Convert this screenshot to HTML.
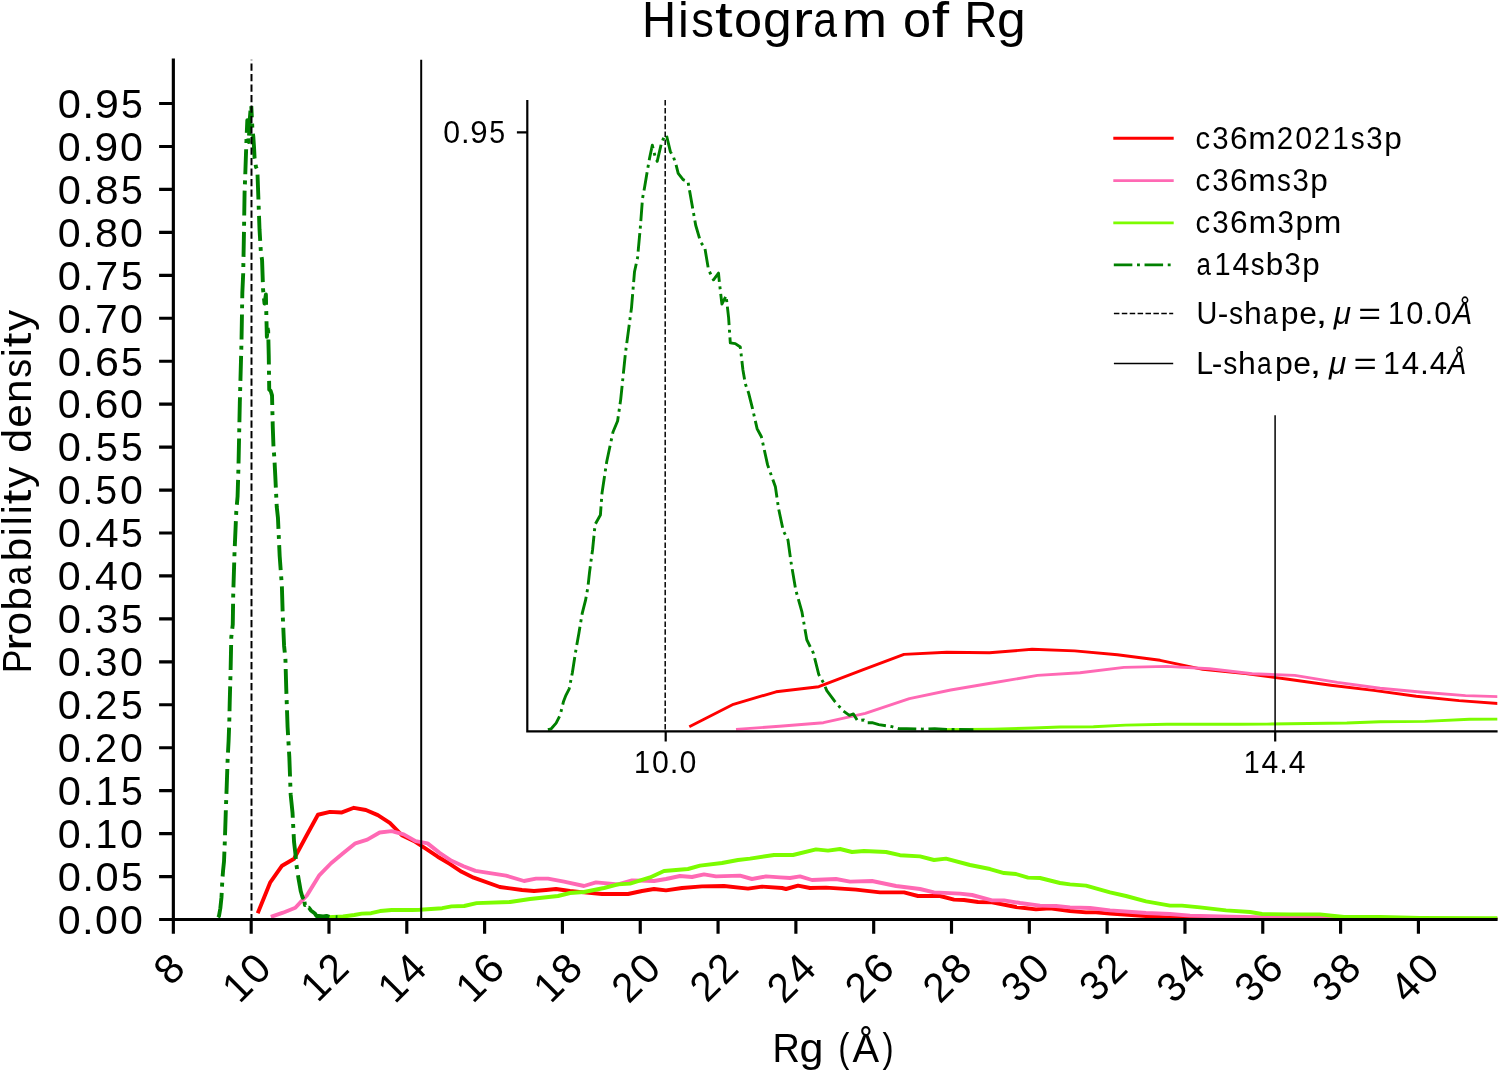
<!DOCTYPE html>
<html><head><meta charset="utf-8"><style>
html,body{margin:0;padding:0;background:#fff;}
svg{display:block;will-change:transform;}
text{font-family:"Liberation Sans", sans-serif;fill:#000;font-kerning:none;}
</style></head><body>
<svg width="1499" height="1072" viewBox="0 0 1499 1072">
<rect x="0" y="0" width="1499" height="1072" fill="#fff"/>
<defs>
<clipPath id="cm"><rect x="173.35" y="55" width="1324" height="864.5"/></clipPath>
<clipPath id="ci"><rect x="527.3" y="95" width="970" height="636.3"/></clipPath>
</defs>
<text x="641.92" y="36.90" font-size="49.70" textLength="34.12" lengthAdjust="spacingAndGlyphs">H</text><text x="678.08" y="36.90" font-size="49.70" textLength="10.79" lengthAdjust="spacingAndGlyphs">i</text><text x="691.35" y="36.90" font-size="49.70" textLength="22.76" lengthAdjust="spacingAndGlyphs">s</text><text x="715.10" y="36.90" font-size="49.70" textLength="17.63" lengthAdjust="spacingAndGlyphs">t</text><text x="733.91" y="36.90" font-size="49.70" textLength="28.08" lengthAdjust="spacingAndGlyphs">o</text><text x="762.92" y="36.90" font-size="49.70" textLength="28.71" lengthAdjust="spacingAndGlyphs">g</text><text x="792.88" y="36.90" font-size="49.70" textLength="20.26" lengthAdjust="spacingAndGlyphs">r</text><text x="813.17" y="36.90" font-size="49.70" textLength="23.75" lengthAdjust="spacingAndGlyphs">a</text><text x="841.96" y="36.90" font-size="49.70" textLength="45.07" lengthAdjust="spacingAndGlyphs">m</text><text x="903.10" y="36.90" font-size="49.70" textLength="28.08" lengthAdjust="spacingAndGlyphs">o</text><text x="931.86" y="36.90" font-size="49.70" textLength="17.33" lengthAdjust="spacingAndGlyphs">f</text><text x="964.40" y="36.90" font-size="49.70" textLength="32.80" lengthAdjust="spacingAndGlyphs">R</text><text x="996.92" y="36.90" font-size="49.70" textLength="28.71" lengthAdjust="spacingAndGlyphs">g</text>
<g clip-path="url(#cm)" fill="none" stroke-linejoin="round" stroke-linecap="butt">
<path d="M257.71,913.23 L270.09,882.72 L282.07,865.69 L294.05,858.74 L306.17,836.27 L317.95,814.74 L329.93,811.88 L341.91,812.43 L353.89,807.80 L365.85,809.97 L377.83,815.15 L389.81,822.78 L401.79,835.18 L413.77,840.90 L425.75,848.66 L437.73,856.70 L449.71,863.78 L461.69,871.82 L473.67,877.68 L499.80,887.00 L510.00,888.40 L522.00,890.00 L534.00,891.00 L546.00,890.00 L556.00,889.00 L570.00,891.00 L584.00,892.40 L602.00,894.00 L628.00,894.00 L642.00,891.00 L654.00,889.00 L666.00,890.40 L682.00,888.00 L702.00,886.40 L724.00,886.00 L748.00,888.60 L762.00,886.60 L782.00,888.00 L786.00,889.00 L798.00,885.60 L810.00,888.00 L826.00,887.60 L856.00,889.60 L880.00,892.40 L904.00,892.40 L918.00,896.00 L940.00,896.00 L954.00,899.60 L964.00,900.00 L978.00,902.00 L992.00,902.40 L1016.00,907.00 L1036.00,909.40 L1050.00,908.40 L1070.00,911.00 L1086.00,912.40 L1096.00,912.40 L1110.00,913.60 L1146.00,916.00 L1170.00,917.60 L1210.00,918.00 L1270.00,918.40 L1350.00,918.80 L1420.00,919.00 L1500.00,919.20" stroke="#ff0000" stroke-width="3.9"/>
<path d="M270.82,916.91 L283.02,912.69 L295.34,907.78 L307.09,895.12 L319.47,875.09 L331.06,863.24 L343.04,853.29 L355.41,843.35 L367.33,839.67 L379.68,832.45 L391.69,831.09 L403.67,834.36 L415.65,841.17 L427.57,843.35 L439.56,852.89 L451.54,860.79 L463.52,866.24 L475.50,870.87 L506.00,875.60 L524.00,881.00 L536.00,878.60 L548.00,878.60 L564.00,881.60 L584.00,886.00 L596.00,882.40 L618.00,884.40 L632.00,880.40 L654.00,881.00 L666.00,879.00 L680.00,876.00 L692.00,877.00 L704.00,874.40 L716.00,876.40 L740.00,875.60 L752.00,879.00 L766.00,876.40 L780.00,877.40 L790.00,878.00 L800.00,876.40 L812.00,880.00 L836.00,879.00 L850.00,881.60 L872.00,881.00 L896.00,886.00 L920.00,889.00 L934.00,892.40 L960.00,893.60 L972.00,895.00 L992.00,900.40 L1004.00,900.40 L1020.00,903.00 L1040.00,905.60 L1056.00,906.00 L1070.00,907.40 L1090.00,908.00 L1110.00,910.40 L1146.00,913.00 L1170.00,914.00 L1190.00,915.60 L1230.00,916.60 L1270.00,917.40 L1370.00,918.40 L1440.00,918.90 L1500.00,919.20" stroke="#ff69b4" stroke-width="3.9"/>
<path d="M328.05,917.32 L343.04,916.50 L354.29,915.00 L361.72,913.64 L371.09,913.23 L380.07,911.05 L391.69,909.96 L412.23,909.96 L419.72,909.69 L442.19,908.19 L451.54,906.42 L464.13,906.01 L476.62,903.15 L510.00,902.00 L530.00,899.00 L558.00,896.00 L570.00,893.00 L584.00,892.00 L604.00,888.00 L618.00,884.40 L630.00,883.60 L650.00,877.40 L664.00,871.00 L688.00,869.00 L700.00,865.60 L722.00,863.00 L738.00,860.00 L750.00,858.60 L774.00,855.00 L793.00,855.00 L816.00,849.40 L828.00,850.60 L840.00,849.00 L852.00,852.00 L864.00,851.00 L886.00,852.00 L900.00,855.20 L920.00,856.40 L934.00,860.00 L946.00,858.60 L970.00,865.00 L990.00,869.00 L1004.00,873.00 L1016.00,874.00 L1028.00,877.60 L1040.00,878.00 L1060.00,883.00 L1070.00,884.40 L1086.00,885.60 L1110.00,892.40 L1126.00,896.00 L1146.00,901.40 L1170.00,905.60 L1182.00,905.60 L1200.00,907.40 L1226.00,910.40 L1250.00,912.00 L1262.00,914.00 L1290.00,914.40 L1320.00,914.40 L1344.00,917.00 L1380.00,917.00 L1420.00,918.00 L1486.00,918.20 L1500.00,918.30" stroke="#7cfc00" stroke-width="3.9"/>
<path d="M218.04,917.31 L218.96,916.08 L220.34,908.28 L221.49,897.21 L222.39,879.29 L223.09,870.40 L224.01,861.51 L224.91,839.22 L225.84,810.22 L226.74,785.60 L227.66,758.80 L228.59,741.01 L229.26,723.10 L229.71,702.99 L230.19,685.21 L230.58,671.54 L231.28,637.34 L232.77,624.49 L233.22,594.67 L234.54,551.86 L236.30,511.24 L237.59,496.33 L238.48,466.38 L239.81,403.06 L241.49,341.92 L242.34,292.68 L243.21,273.26 L243.99,231.14 L244.58,192.84 L245.17,177.52 L245.96,154.54 L246.54,138.27 L247.33,120.08 L247.72,127.74 L248.12,135.40 L248.71,142.10 L249.83,118.71 L250.56,109.41 L251.29,106.13" stroke="#008000" stroke-width="3.9" stroke-dasharray="24.96 6.24 3.90 6.24"/><path d="M251.29,106.13 L252.38,128.56 L253.31,136.76 L253.98,146.34 L254.60,158.37 L255.97,166.99 L257.35,169.86 L258.53,202.41 L259.51,229.22 L260.88,252.20 L262.06,259.86 L263.10,289.81 L264.50,303.62 L265.90,294.46 L266.16,307.04 L266.86,336.86 L268.04,325.37 L268.74,355.19 L269.22,389.65 L270.62,390.75 L272.02,395.40 L272.75,426.31 L273.45,445.87 L274.38,458.45 L275.33,476.91 L276.74,506.73 L277.94,517.67 L279.68,556.10 L281.87,586.05 L282.77,616.01 L284.09,645.96 L285.41,658.68 L286.25,688.63 L287.59,727.06 L289.33,757.02 L290.68,794.63 L291.41,801.88 L292.53,812.82 L294.05,842.09 L295.34,853.03 L296.29,863.97 L298.54,878.61 L300.78,891.33 L302.63,897.75 L303.76,895.84 L304.91,905.00 L306.76,904.04 L307.51,907.74 L309.00,907.74 L310.88,910.47 L314.59,913.21 L316.47,915.94 L318.71,915.94 L323.20,916.49 L326.57,915.94 L329.93,916.90 L337.42,917.31" stroke="#008000" stroke-width="3.9" stroke-dasharray="24.96 6.24 3.90 6.24" stroke-dashoffset="13.66"/>
<path d="M251.5,59.8 L251.5,919.5" stroke="#000" stroke-width="1.98" stroke-dasharray="7.33 3.17" stroke-dashoffset="6.9"/>
<path d="M421.2,59.8 L421.2,919.5" stroke="#000" stroke-width="1.98"/>
</g>
<g stroke="#000" stroke-width="3.15" fill="none">
<path d="M173.35,58.6 L173.35,921.1 M171.8,919.5 L1497.6,919.5" stroke-linecap="butt"/>
<path d="M159.1,919.50 L173.35,919.50 M159.1,876.55 L173.35,876.55 M159.1,833.61 L173.35,833.61 M159.1,790.66 L173.35,790.66 M159.1,747.72 L173.35,747.72 M159.1,704.77 L173.35,704.77 M159.1,661.83 L173.35,661.83 M159.1,618.88 L173.35,618.88 M159.1,575.94 L173.35,575.94 M159.1,533.00 L173.35,533.00 M159.1,490.05 L173.35,490.05 M159.1,447.10 L173.35,447.10 M159.1,404.16 L173.35,404.16 M159.1,361.22 L173.35,361.22 M159.1,318.27 L173.35,318.27 M159.1,275.33 L173.35,275.33 M159.1,232.38 L173.35,232.38 M159.1,189.43 L173.35,189.43 M159.1,146.49 L173.35,146.49 M159.1,103.54 L173.35,103.54 M173.35,919.5 L173.35,933.7 M251.17,919.5 L251.17,933.7 M328.98,919.5 L328.98,933.7 M406.80,919.5 L406.80,933.7 M484.61,919.5 L484.61,933.7 M562.43,919.5 L562.43,933.7 M640.25,919.5 L640.25,933.7 M718.06,919.5 L718.06,933.7 M795.88,919.5 L795.88,933.7 M873.69,919.5 L873.69,933.7 M951.51,919.5 L951.51,933.7 M1029.33,919.5 L1029.33,933.7 M1107.14,919.5 L1107.14,933.7 M1184.96,919.5 L1184.96,933.7 M1262.77,919.5 L1262.77,933.7 M1340.59,919.5 L1340.59,933.7 M1418.41,919.5 L1418.41,933.7"/>
</g>
<text x="57.79" y="933.79" font-size="41.50" textLength="22.90" lengthAdjust="spacingAndGlyphs">0</text><text x="81.99" y="933.79" font-size="41.50" textLength="11.74" lengthAdjust="spacingAndGlyphs">.</text><text x="95.06" y="933.79" font-size="41.50" textLength="22.90" lengthAdjust="spacingAndGlyphs">0</text><text x="119.91" y="933.79" font-size="41.50" textLength="22.90" lengthAdjust="spacingAndGlyphs">0</text>
<text x="57.78" y="890.84" font-size="41.50" textLength="23.13" lengthAdjust="spacingAndGlyphs">0</text><text x="82.22" y="890.84" font-size="41.50" textLength="11.86" lengthAdjust="spacingAndGlyphs">.</text><text x="95.42" y="890.84" font-size="41.50" textLength="23.13" lengthAdjust="spacingAndGlyphs">0</text><text x="121.02" y="890.84" font-size="41.50" textLength="21.83" lengthAdjust="spacingAndGlyphs">5</text>
<text x="57.79" y="847.90" font-size="41.50" textLength="22.90" lengthAdjust="spacingAndGlyphs">0</text><text x="81.99" y="847.90" font-size="41.50" textLength="11.74" lengthAdjust="spacingAndGlyphs">.</text><text x="95.39" y="847.90" font-size="41.50" textLength="21.87" lengthAdjust="spacingAndGlyphs">1</text><text x="119.91" y="847.90" font-size="41.50" textLength="22.90" lengthAdjust="spacingAndGlyphs">0</text>
<text x="57.78" y="804.95" font-size="41.50" textLength="23.13" lengthAdjust="spacingAndGlyphs">0</text><text x="82.22" y="804.95" font-size="41.50" textLength="11.86" lengthAdjust="spacingAndGlyphs">.</text><text x="95.75" y="804.95" font-size="41.50" textLength="22.09" lengthAdjust="spacingAndGlyphs">1</text><text x="121.02" y="804.95" font-size="41.50" textLength="21.83" lengthAdjust="spacingAndGlyphs">5</text>
<text x="57.79" y="762.01" font-size="41.50" textLength="22.90" lengthAdjust="spacingAndGlyphs">0</text><text x="81.99" y="762.01" font-size="41.50" textLength="11.74" lengthAdjust="spacingAndGlyphs">.</text><text x="94.96" y="762.01" font-size="41.50" textLength="22.07" lengthAdjust="spacingAndGlyphs">2</text><text x="119.91" y="762.01" font-size="41.50" textLength="22.90" lengthAdjust="spacingAndGlyphs">0</text>
<text x="57.78" y="719.06" font-size="41.50" textLength="23.13" lengthAdjust="spacingAndGlyphs">0</text><text x="82.22" y="719.06" font-size="41.50" textLength="11.86" lengthAdjust="spacingAndGlyphs">.</text><text x="95.32" y="719.06" font-size="41.50" textLength="22.30" lengthAdjust="spacingAndGlyphs">2</text><text x="121.02" y="719.06" font-size="41.50" textLength="21.83" lengthAdjust="spacingAndGlyphs">5</text>
<text x="57.79" y="676.12" font-size="41.50" textLength="22.90" lengthAdjust="spacingAndGlyphs">0</text><text x="81.99" y="676.12" font-size="41.50" textLength="11.74" lengthAdjust="spacingAndGlyphs">.</text><text x="95.56" y="676.12" font-size="41.50" textLength="21.99" lengthAdjust="spacingAndGlyphs">3</text><text x="119.91" y="676.12" font-size="41.50" textLength="22.90" lengthAdjust="spacingAndGlyphs">0</text>
<text x="57.78" y="633.17" font-size="41.50" textLength="23.13" lengthAdjust="spacingAndGlyphs">0</text><text x="82.22" y="633.17" font-size="41.50" textLength="11.86" lengthAdjust="spacingAndGlyphs">.</text><text x="95.93" y="633.17" font-size="41.50" textLength="22.21" lengthAdjust="spacingAndGlyphs">3</text><text x="121.02" y="633.17" font-size="41.50" textLength="21.83" lengthAdjust="spacingAndGlyphs">5</text>
<text x="57.79" y="590.23" font-size="41.50" textLength="22.90" lengthAdjust="spacingAndGlyphs">0</text><text x="81.99" y="590.23" font-size="41.50" textLength="11.74" lengthAdjust="spacingAndGlyphs">.</text><text x="95.05" y="590.23" font-size="41.50" textLength="22.90" lengthAdjust="spacingAndGlyphs">4</text><text x="119.91" y="590.23" font-size="41.50" textLength="22.90" lengthAdjust="spacingAndGlyphs">0</text>
<text x="57.78" y="547.28" font-size="41.50" textLength="23.13" lengthAdjust="spacingAndGlyphs">0</text><text x="82.22" y="547.28" font-size="41.50" textLength="11.86" lengthAdjust="spacingAndGlyphs">.</text><text x="95.42" y="547.28" font-size="41.50" textLength="23.13" lengthAdjust="spacingAndGlyphs">4</text><text x="121.02" y="547.28" font-size="41.50" textLength="21.83" lengthAdjust="spacingAndGlyphs">5</text>
<text x="57.79" y="504.34" font-size="41.50" textLength="22.90" lengthAdjust="spacingAndGlyphs">0</text><text x="81.99" y="504.34" font-size="41.50" textLength="11.74" lengthAdjust="spacingAndGlyphs">.</text><text x="95.55" y="504.34" font-size="41.50" textLength="21.61" lengthAdjust="spacingAndGlyphs">5</text><text x="119.91" y="504.34" font-size="41.50" textLength="22.90" lengthAdjust="spacingAndGlyphs">0</text>
<text x="57.78" y="461.39" font-size="41.50" textLength="23.13" lengthAdjust="spacingAndGlyphs">0</text><text x="82.22" y="461.39" font-size="41.50" textLength="11.86" lengthAdjust="spacingAndGlyphs">.</text><text x="95.92" y="461.39" font-size="41.50" textLength="21.83" lengthAdjust="spacingAndGlyphs">5</text><text x="121.02" y="461.39" font-size="41.50" textLength="21.83" lengthAdjust="spacingAndGlyphs">5</text>
<text x="57.79" y="418.45" font-size="41.50" textLength="22.90" lengthAdjust="spacingAndGlyphs">0</text><text x="81.99" y="418.45" font-size="41.50" textLength="11.74" lengthAdjust="spacingAndGlyphs">.</text><text x="94.66" y="418.45" font-size="41.50" textLength="23.70" lengthAdjust="spacingAndGlyphs">6</text><text x="119.91" y="418.45" font-size="41.50" textLength="22.90" lengthAdjust="spacingAndGlyphs">0</text>
<text x="57.78" y="375.50" font-size="41.50" textLength="23.13" lengthAdjust="spacingAndGlyphs">0</text><text x="82.22" y="375.50" font-size="41.50" textLength="11.86" lengthAdjust="spacingAndGlyphs">.</text><text x="95.01" y="375.50" font-size="41.50" textLength="23.94" lengthAdjust="spacingAndGlyphs">6</text><text x="121.02" y="375.50" font-size="41.50" textLength="21.83" lengthAdjust="spacingAndGlyphs">5</text>
<text x="57.79" y="332.56" font-size="41.50" textLength="22.90" lengthAdjust="spacingAndGlyphs">0</text><text x="81.99" y="332.56" font-size="41.50" textLength="11.74" lengthAdjust="spacingAndGlyphs">.</text><text x="95.23" y="332.56" font-size="41.50" textLength="22.40" lengthAdjust="spacingAndGlyphs">7</text><text x="119.91" y="332.56" font-size="41.50" textLength="22.90" lengthAdjust="spacingAndGlyphs">0</text>
<text x="57.78" y="289.61" font-size="41.50" textLength="23.13" lengthAdjust="spacingAndGlyphs">0</text><text x="82.22" y="289.61" font-size="41.50" textLength="11.86" lengthAdjust="spacingAndGlyphs">.</text><text x="95.59" y="289.61" font-size="41.50" textLength="22.63" lengthAdjust="spacingAndGlyphs">7</text><text x="121.02" y="289.61" font-size="41.50" textLength="21.83" lengthAdjust="spacingAndGlyphs">5</text>
<text x="57.79" y="246.67" font-size="41.50" textLength="22.90" lengthAdjust="spacingAndGlyphs">0</text><text x="81.99" y="246.67" font-size="41.50" textLength="11.74" lengthAdjust="spacingAndGlyphs">.</text><text x="94.93" y="246.67" font-size="41.50" textLength="23.15" lengthAdjust="spacingAndGlyphs">8</text><text x="119.91" y="246.67" font-size="41.50" textLength="22.90" lengthAdjust="spacingAndGlyphs">0</text>
<text x="57.78" y="203.72" font-size="41.50" textLength="23.13" lengthAdjust="spacingAndGlyphs">0</text><text x="82.22" y="203.72" font-size="41.50" textLength="11.86" lengthAdjust="spacingAndGlyphs">.</text><text x="95.29" y="203.72" font-size="41.50" textLength="23.38" lengthAdjust="spacingAndGlyphs">8</text><text x="121.02" y="203.72" font-size="41.50" textLength="21.83" lengthAdjust="spacingAndGlyphs">5</text>
<text x="57.79" y="160.78" font-size="41.50" textLength="22.90" lengthAdjust="spacingAndGlyphs">0</text><text x="81.99" y="160.78" font-size="41.50" textLength="11.74" lengthAdjust="spacingAndGlyphs">.</text><text x="94.56" y="160.78" font-size="41.50" textLength="23.65" lengthAdjust="spacingAndGlyphs">9</text><text x="119.91" y="160.78" font-size="41.50" textLength="22.90" lengthAdjust="spacingAndGlyphs">0</text>
<text x="57.78" y="117.83" font-size="41.50" textLength="23.13" lengthAdjust="spacingAndGlyphs">0</text><text x="82.22" y="117.83" font-size="41.50" textLength="11.86" lengthAdjust="spacingAndGlyphs">.</text><text x="94.91" y="117.83" font-size="41.50" textLength="23.89" lengthAdjust="spacingAndGlyphs">9</text><text x="121.02" y="117.83" font-size="41.50" textLength="21.83" lengthAdjust="spacingAndGlyphs">5</text>
<g transform="translate(172.07,985.75) rotate(-45)"><text x="-1.82" y="0.00" font-size="41.50" textLength="23.35" lengthAdjust="spacingAndGlyphs">8</text></g>
<g transform="translate(241.58,1002.36) rotate(-45)"><text x="-3.02" y="0.00" font-size="41.50" textLength="22.06" lengthAdjust="spacingAndGlyphs">1</text><text x="21.71" y="0.00" font-size="41.50" textLength="23.10" lengthAdjust="spacingAndGlyphs">0</text></g>
<g transform="translate(319.87,1001.42) rotate(-45)"><text x="-3.02" y="0.00" font-size="41.50" textLength="22.06" lengthAdjust="spacingAndGlyphs">1</text><text x="21.61" y="0.00" font-size="41.50" textLength="22.26" lengthAdjust="spacingAndGlyphs">2</text></g>
<g transform="translate(397.07,1002.64) rotate(-45)"><text x="-3.02" y="0.00" font-size="41.50" textLength="22.06" lengthAdjust="spacingAndGlyphs">1</text><text x="21.71" y="0.00" font-size="41.50" textLength="23.10" lengthAdjust="spacingAndGlyphs">4</text></g>
<g transform="translate(475.02,1002.38) rotate(-45)"><text x="-3.01" y="0.00" font-size="41.50" textLength="22.01" lengthAdjust="spacingAndGlyphs">1</text><text x="21.26" y="0.00" font-size="41.50" textLength="23.85" lengthAdjust="spacingAndGlyphs">6</text></g>
<g transform="translate(552.87,1002.30) rotate(-45)"><text x="-3.02" y="0.00" font-size="41.50" textLength="22.06" lengthAdjust="spacingAndGlyphs">1</text><text x="21.59" y="0.00" font-size="41.50" textLength="23.35" lengthAdjust="spacingAndGlyphs">8</text></g>
<g transform="translate(630.15,1003.38) rotate(-45)"><text x="-2.01" y="0.00" font-size="41.50" textLength="22.26" lengthAdjust="spacingAndGlyphs">2</text><text x="23.16" y="0.00" font-size="41.50" textLength="23.10" lengthAdjust="spacingAndGlyphs">0</text></g>
<g transform="translate(708.44,1002.44) rotate(-45)"><text x="-2.01" y="0.00" font-size="41.50" textLength="22.26" lengthAdjust="spacingAndGlyphs">2</text><text x="23.05" y="0.00" font-size="41.50" textLength="22.26" lengthAdjust="spacingAndGlyphs">2</text></g>
<g transform="translate(785.64,1003.66) rotate(-45)"><text x="-2.01" y="0.00" font-size="41.50" textLength="22.27" lengthAdjust="spacingAndGlyphs">2</text><text x="23.15" y="0.00" font-size="41.50" textLength="23.10" lengthAdjust="spacingAndGlyphs">4</text></g>
<g transform="translate(863.59,1003.41) rotate(-45)"><text x="-2.01" y="0.00" font-size="41.50" textLength="22.22" lengthAdjust="spacingAndGlyphs">2</text><text x="22.70" y="0.00" font-size="41.50" textLength="23.86" lengthAdjust="spacingAndGlyphs">6</text></g>
<g transform="translate(941.44,1003.32) rotate(-45)"><text x="-2.01" y="0.00" font-size="41.50" textLength="22.27" lengthAdjust="spacingAndGlyphs">2</text><text x="23.03" y="0.00" font-size="41.50" textLength="23.35" lengthAdjust="spacingAndGlyphs">8</text></g>
<g transform="translate(1019.27,1003.29) rotate(-45)"><text x="-1.52" y="0.00" font-size="41.50" textLength="22.18" lengthAdjust="spacingAndGlyphs">3</text><text x="23.04" y="0.00" font-size="41.50" textLength="23.10" lengthAdjust="spacingAndGlyphs">0</text></g>
<g transform="translate(1097.56,1002.36) rotate(-45)"><text x="-1.52" y="0.00" font-size="41.50" textLength="22.18" lengthAdjust="spacingAndGlyphs">3</text><text x="22.94" y="0.00" font-size="41.50" textLength="22.26" lengthAdjust="spacingAndGlyphs">2</text></g>
<g transform="translate(1174.76,1003.58) rotate(-45)"><text x="-1.52" y="0.00" font-size="41.50" textLength="22.18" lengthAdjust="spacingAndGlyphs">3</text><text x="23.04" y="0.00" font-size="41.50" textLength="23.10" lengthAdjust="spacingAndGlyphs">4</text></g>
<g transform="translate(1252.71,1003.32) rotate(-45)"><text x="-1.52" y="0.00" font-size="41.50" textLength="22.13" lengthAdjust="spacingAndGlyphs">3</text><text x="22.58" y="0.00" font-size="41.50" textLength="23.85" lengthAdjust="spacingAndGlyphs">6</text></g>
<g transform="translate(1330.57,1003.24) rotate(-45)"><text x="-1.52" y="0.00" font-size="41.50" textLength="22.18" lengthAdjust="spacingAndGlyphs">3</text><text x="22.92" y="0.00" font-size="41.50" textLength="23.35" lengthAdjust="spacingAndGlyphs">8</text></g>
<g transform="translate(1407.97,1004.06) rotate(-45)"><text x="-0.95" y="0.00" font-size="41.50" textLength="23.10" lengthAdjust="spacingAndGlyphs">4</text><text x="24.12" y="0.00" font-size="41.50" textLength="23.10" lengthAdjust="spacingAndGlyphs">0</text></g>
<g transform="translate(31.3,670.1) rotate(-90)"><text x="-2.86" y="0.00" font-size="41.00" textLength="23.25" lengthAdjust="spacingAndGlyphs">P</text><text x="19.43" y="0.00" font-size="41.00" textLength="16.81" lengthAdjust="spacingAndGlyphs">r</text><text x="34.96" y="0.00" font-size="41.00" textLength="23.30" lengthAdjust="spacingAndGlyphs">o</text><text x="59.47" y="0.00" font-size="41.00" textLength="23.85" lengthAdjust="spacingAndGlyphs">b</text><text x="84.53" y="0.00" font-size="41.00" textLength="19.71" lengthAdjust="spacingAndGlyphs">a</text><text x="108.63" y="0.00" font-size="41.00" textLength="23.85" lengthAdjust="spacingAndGlyphs">b</text><text x="133.85" y="0.00" font-size="41.00" textLength="8.95" lengthAdjust="spacingAndGlyphs">i</text><text x="144.78" y="0.00" font-size="41.00" textLength="8.95" lengthAdjust="spacingAndGlyphs">l</text><text x="155.75" y="0.00" font-size="41.00" textLength="8.95" lengthAdjust="spacingAndGlyphs">i</text><text x="165.94" y="0.00" font-size="41.00" textLength="14.63" lengthAdjust="spacingAndGlyphs">t</text><text x="182.20" y="0.00" font-size="41.00" textLength="21.16" lengthAdjust="spacingAndGlyphs">y</text><text x="217.36" y="0.00" font-size="41.00" textLength="23.82" lengthAdjust="spacingAndGlyphs">d</text><text x="242.36" y="0.00" font-size="41.00" textLength="23.67" lengthAdjust="spacingAndGlyphs">e</text><text x="267.00" y="0.00" font-size="41.00" textLength="23.63" lengthAdjust="spacingAndGlyphs">n</text><text x="292.30" y="0.00" font-size="41.00" textLength="18.89" lengthAdjust="spacingAndGlyphs">s</text><text x="312.77" y="0.00" font-size="41.00" textLength="8.95" lengthAdjust="spacingAndGlyphs">i</text><text x="322.96" y="0.00" font-size="41.00" textLength="14.63" lengthAdjust="spacingAndGlyphs">t</text><text x="339.22" y="0.00" font-size="41.00" textLength="21.16" lengthAdjust="spacingAndGlyphs">y</text></g>
<text x="772.39" y="1062.00" font-size="41.00" textLength="27.37" lengthAdjust="spacingAndGlyphs">R</text><text x="799.52" y="1062.00" font-size="41.00" textLength="23.95" lengthAdjust="spacingAndGlyphs">g</text><text x="838.21" y="1062.00" font-size="41.00" textLength="11.15" lengthAdjust="spacingAndGlyphs">(</text><text x="852.57" y="1062.00" font-size="41.00" textLength="26.62" lengthAdjust="spacingAndGlyphs">Å</text><text x="882.42" y="1062.00" font-size="41.00" textLength="11.15" lengthAdjust="spacingAndGlyphs">)</text>
<g clip-path="url(#ci)" fill="none" stroke-linejoin="round">
<path d="M689.30,726.70 L733.40,704.30 L776.10,691.80 L818.80,686.70 L862.00,670.20 L904.00,654.40 L946.70,652.30 L989.40,652.70 L1032.10,649.30 L1074.70,650.90 L1117.40,654.70 L1160.10,660.30 L1202.80,669.40 L1245.50,673.60 L1288.20,679.30 L1330.90,685.20 L1373.60,690.40 L1416.30,696.30 L1459.00,700.60 L1552.11,707.44 L1588.47,708.47 L1631.24,709.64 L1674.00,710.38 L1716.77,709.64 L1752.41,708.91 L1802.31,710.38 L1852.21,711.41 L1916.36,712.58 L2009.02,712.58 L2058.92,710.38 L2101.69,708.91 L2144.46,709.94 L2201.48,708.18 L2272.76,707.00 L2351.17,706.71 L2436.71,708.62 L2486.61,707.15 L2557.89,708.18 L2572.14,708.91 L2614.91,706.41 L2657.68,708.18 L2714.71,707.88 L2821.63,709.35 L2907.16,711.41 L2992.70,711.41 L3042.60,714.05 L3121.01,714.05 L3170.90,716.69 L3206.54,716.99 L3256.44,718.45 L3306.34,718.75 L3391.88,722.12 L3463.16,723.89 L3513.05,723.15 L3584.33,725.06 L3641.36,726.09 L3677.00,726.09 L3726.90,726.97 L3855.20,728.73 L3940.74,729.91 L4083.30,730.20 L4297.14,730.49 L4582.27,730.79 L4831.75,730.93 L5116.87,731.08" stroke="#ff0000" stroke-width="2.9"/>
<path d="M736.00,729.40 L779.50,726.30 L823.40,722.70 L865.30,713.40 L909.40,698.70 L950.70,690.00 L993.40,682.70 L1037.50,675.40 L1080.00,672.70 L1124.00,667.40 L1166.80,666.40 L1209.50,668.80 L1252.20,673.80 L1294.70,675.40 L1337.40,682.40 L1380.10,688.20 L1422.80,692.20 L1465.50,695.60 L1574.21,699.07 L1638.36,703.04 L1681.13,701.28 L1723.90,701.28 L1780.93,703.48 L1852.21,706.71 L1894.98,704.07 L1973.38,705.53 L2023.28,702.60 L2101.69,703.04 L2144.46,701.57 L2194.36,699.37 L2237.12,700.10 L2279.89,698.19 L2322.66,699.66 L2408.20,699.07 L2450.97,701.57 L2500.86,699.66 L2550.76,700.40 L2586.40,700.84 L2622.04,699.66 L2664.81,702.30 L2750.35,701.57 L2800.24,703.48 L2878.65,703.04 L2964.19,706.71 L3049.73,708.91 L3099.62,711.41 L3192.29,712.29 L3235.06,713.32 L3306.34,717.28 L3349.11,717.28 L3406.13,719.19 L3477.41,721.10 L3534.44,721.39 L3584.33,722.42 L3655.62,722.86 L3726.90,724.62 L3855.20,726.53 L3940.74,727.26 L4012.02,728.44 L4154.58,729.17 L4297.14,729.76 L4653.55,730.49 L4903.03,730.86 L5116.87,731.08" stroke="#ff69b4" stroke-width="2.9"/>
<path d="M940.00,729.70 L993.40,729.10 L1033.50,728.00 L1060.00,727.00 L1093.40,726.70 L1125.40,725.10 L1166.80,724.30 L1240.00,724.30 L1266.70,724.10 L1346.80,723.00 L1380.10,721.70 L1425.00,721.40 L1469.50,719.30 L1588.47,718.45 L1659.75,716.25 L1759.54,714.05 L1802.31,711.85 L1852.21,711.11 L1923.49,708.18 L1973.38,705.53 L2016.15,704.95 L2087.43,700.40 L2137.33,695.70 L2222.87,694.23 L2265.64,691.73 L2344.05,689.82 L2401.07,687.62 L2443.84,686.59 L2529.38,683.95 L2597.09,683.95 L2679.07,679.84 L2721.83,680.72 L2764.60,679.55 L2807.37,681.75 L2850.14,681.02 L2928.55,681.75 L2978.45,684.10 L3049.73,684.98 L3099.62,687.62 L3142.39,686.59 L3227.93,691.29 L3299.21,694.23 L3349.11,697.17 L3391.88,697.90 L3434.64,700.54 L3477.41,700.84 L3548.69,704.51 L3584.33,705.53 L3641.36,706.41 L3726.90,711.41 L3783.92,714.05 L3855.20,718.01 L3940.74,721.10 L3983.51,721.10 L4047.66,722.42 L4140.33,724.62 L4225.86,725.79 L4268.63,727.26 L4368.42,727.56 L4475.35,727.56 L4560.88,729.46 L4689.19,729.46 L4831.75,730.20 L5066.98,730.35 L5116.87,730.42" stroke="#7cfc00" stroke-width="2.9"/>
<path d="M547.90,729.70 L551.20,728.79 L556.10,723.08 L560.20,714.96 L563.40,701.82 L565.90,695.30 L569.20,688.79 L572.40,672.44 L575.70,651.18 L578.90,633.14 L582.20,613.48 L585.50,600.45 L587.90,587.31 L589.50,572.57 L591.20,559.54 L592.60,549.51 L595.10,524.44 L600.40,515.02 L602.00,493.16 L606.70,461.77 L613.00,431.99 L617.60,421.06 L620.75,399.11 L625.50,352.68 L631.50,307.86 L634.50,271.76 L637.60,257.52 L640.40,226.64 L642.50,198.57 L644.60,187.34 L647.40,170.49 L649.50,158.56 L652.30,145.22 L653.70,150.84 L655.10,156.45 L657.20,161.37 L661.20,144.22 L663.80,137.40 L666.40,134.99" stroke="#008000" stroke-width="2.9" stroke-dasharray="18.56 4.64 2.90 4.64"/><path d="M666.40,134.99 L670.30,151.44 L673.60,157.45 L676.00,164.47 L678.20,173.30 L683.10,179.61 L688.00,181.72 L692.20,205.58 L695.70,225.24 L700.60,242.08 L704.80,247.70 L708.50,269.66 L713.50,279.78 L718.50,273.07 L719.40,282.29 L721.90,304.15 L726.10,295.73 L728.60,317.59 L730.30,342.85 L735.30,343.66 L740.30,347.07 L742.90,369.73 L745.40,384.06 L748.70,393.29 L752.10,406.83 L757.10,428.69 L761.40,436.71 L767.60,464.88 L775.40,486.84 L778.60,508.80 L783.30,530.76 L788.00,540.09 L791.00,562.04 L795.80,590.22 L802.00,612.18 L806.80,639.75 L809.40,645.07 L813.40,653.09 L818.80,674.55 L823.40,682.57 L826.80,690.59 L834.80,701.32 L842.80,710.64 L849.40,715.36 L853.40,713.95 L857.50,720.67 L864.10,719.97 L866.80,722.68 L872.10,722.68 L878.80,724.68 L892.00,726.69 L898.70,728.69 L906.70,728.69 L922.70,729.09 L934.70,728.69 L946.70,729.39 L973.40,729.70" stroke="#008000" stroke-width="2.9" stroke-dasharray="18.56 4.64 2.90 4.64" stroke-dashoffset="29.96"/>
<path d="M665.2,100 L665.2,731.3" stroke="#000" stroke-width="1.49" stroke-dasharray="5.5 2.4" stroke-dashoffset="0"/>
<path d="M1275.1,415.3 L1275.1,731.3" stroke="#000" stroke-width="1.49"/>
</g>
<g stroke="#000" stroke-width="2.2" fill="none">
<path d="M527.3,99.9 L527.3,732.4 M526.2,731.3 L1497.6,731.3"/>
<path d="M516.9,132.3 L527.3,132.3 M665.7,731.3 L665.7,741.6 M1275.2,731.3 L1275.2,741.6"/>
</g>
<text x="443.22" y="142.83" font-size="30.60" textLength="16.80" lengthAdjust="spacingAndGlyphs">0</text><text x="460.97" y="142.83" font-size="30.60" textLength="8.61" lengthAdjust="spacingAndGlyphs">.</text><text x="470.19" y="142.83" font-size="30.60" textLength="17.35" lengthAdjust="spacingAndGlyphs">9</text><text x="489.14" y="142.83" font-size="30.60" textLength="15.85" lengthAdjust="spacingAndGlyphs">5</text>
<text x="634.00" y="772.80" font-size="30.60" textLength="16.09" lengthAdjust="spacingAndGlyphs">1</text><text x="652.03" y="772.80" font-size="30.60" textLength="16.84" lengthAdjust="spacingAndGlyphs">0</text><text x="669.83" y="772.80" font-size="30.60" textLength="8.64" lengthAdjust="spacingAndGlyphs">.</text><text x="679.44" y="772.80" font-size="30.60" textLength="16.84" lengthAdjust="spacingAndGlyphs">0</text>
<text x="1243.71" y="772.80" font-size="30.60" textLength="15.98" lengthAdjust="spacingAndGlyphs">1</text><text x="1261.62" y="772.80" font-size="30.60" textLength="16.73" lengthAdjust="spacingAndGlyphs">4</text><text x="1279.31" y="772.80" font-size="30.60" textLength="8.58" lengthAdjust="spacingAndGlyphs">.</text><text x="1288.85" y="772.80" font-size="30.60" textLength="16.73" lengthAdjust="spacingAndGlyphs">4</text>
<g fill="none">
<path d="M1113.3,138.3 L1173.7,138.3" stroke="#ff0000" stroke-width="2.9"/>
<path d="M1113.3,180.6 L1173.7,180.6" stroke="#ff69b4" stroke-width="2.9"/>
<path d="M1113.3,222.9 L1173.7,222.9" stroke="#7cfc00" stroke-width="2.9"/>
<path d="M1113.8,264.9 L1173.7,264.9" stroke="#008000" stroke-width="2.9" stroke-dasharray="18.56 4.64 2.90 4.64"/>
<path d="M1113.9,313.4 L1173.2,313.4" stroke="#000" stroke-width="1.49" stroke-dasharray="5.5 2.4"/>
<path d="M1113.9,363.6 L1173.2,363.6" stroke="#000" stroke-width="1.49"/>
</g>
<text x="1195.46" y="148.70" font-size="30.60" textLength="14.55" lengthAdjust="spacingAndGlyphs">c</text><text x="1212.14" y="148.70" font-size="30.60" textLength="16.33" lengthAdjust="spacingAndGlyphs">3</text><text x="1229.92" y="148.70" font-size="30.60" textLength="17.60" lengthAdjust="spacingAndGlyphs">6</text><text x="1248.39" y="148.70" font-size="30.60" textLength="27.53" lengthAdjust="spacingAndGlyphs">m</text><text x="1276.85" y="148.70" font-size="30.60" textLength="16.39" lengthAdjust="spacingAndGlyphs">2</text><text x="1295.37" y="148.70" font-size="30.60" textLength="17.00" lengthAdjust="spacingAndGlyphs">0</text><text x="1313.75" y="148.70" font-size="30.60" textLength="16.39" lengthAdjust="spacingAndGlyphs">2</text><text x="1332.52" y="148.70" font-size="30.60" textLength="16.24" lengthAdjust="spacingAndGlyphs">1</text><text x="1350.81" y="148.70" font-size="30.60" textLength="13.90" lengthAdjust="spacingAndGlyphs">s</text><text x="1366.21" y="148.70" font-size="30.60" textLength="16.33" lengthAdjust="spacingAndGlyphs">3</text><text x="1384.18" y="148.70" font-size="30.60" textLength="17.55" lengthAdjust="spacingAndGlyphs">p</text>
<text x="1195.46" y="190.60" font-size="30.60" textLength="14.55" lengthAdjust="spacingAndGlyphs">c</text><text x="1212.14" y="190.60" font-size="30.60" textLength="16.33" lengthAdjust="spacingAndGlyphs">3</text><text x="1229.92" y="190.60" font-size="30.60" textLength="17.60" lengthAdjust="spacingAndGlyphs">6</text><text x="1248.39" y="190.60" font-size="30.60" textLength="27.53" lengthAdjust="spacingAndGlyphs">m</text><text x="1277.01" y="190.60" font-size="30.60" textLength="13.90" lengthAdjust="spacingAndGlyphs">s</text><text x="1292.41" y="190.60" font-size="30.60" textLength="16.33" lengthAdjust="spacingAndGlyphs">3</text><text x="1310.38" y="190.60" font-size="30.60" textLength="17.55" lengthAdjust="spacingAndGlyphs">p</text>
<text x="1195.46" y="232.60" font-size="30.60" textLength="14.60" lengthAdjust="spacingAndGlyphs">c</text><text x="1212.19" y="232.60" font-size="30.60" textLength="16.38" lengthAdjust="spacingAndGlyphs">3</text><text x="1230.02" y="232.60" font-size="30.60" textLength="17.65" lengthAdjust="spacingAndGlyphs">6</text><text x="1248.55" y="232.60" font-size="30.60" textLength="27.61" lengthAdjust="spacingAndGlyphs">m</text><text x="1277.55" y="232.60" font-size="30.60" textLength="16.38" lengthAdjust="spacingAndGlyphs">3</text><text x="1295.57" y="232.60" font-size="30.60" textLength="17.60" lengthAdjust="spacingAndGlyphs">p</text><text x="1313.87" y="232.60" font-size="30.60" textLength="27.61" lengthAdjust="spacingAndGlyphs">m</text>
<text x="1196.40" y="274.50" font-size="30.60" textLength="14.41" lengthAdjust="spacingAndGlyphs">a</text><text x="1214.38" y="274.50" font-size="30.60" textLength="16.13" lengthAdjust="spacingAndGlyphs">1</text><text x="1232.46" y="274.50" font-size="30.60" textLength="16.89" lengthAdjust="spacingAndGlyphs">4</text><text x="1250.87" y="274.50" font-size="30.60" textLength="13.81" lengthAdjust="spacingAndGlyphs">s</text><text x="1265.68" y="274.50" font-size="30.60" textLength="17.43" lengthAdjust="spacingAndGlyphs">b</text><text x="1284.45" y="274.50" font-size="30.60" textLength="16.22" lengthAdjust="spacingAndGlyphs">3</text><text x="1302.29" y="274.50" font-size="30.60" textLength="17.43" lengthAdjust="spacingAndGlyphs">p</text>
<text x="1196.47" y="324.40" font-size="30.60" textLength="20.87" lengthAdjust="spacingAndGlyphs">U</text><text x="1217.70" y="324.40" font-size="30.60" textLength="10.56" lengthAdjust="spacingAndGlyphs">-</text><text x="1229.09" y="324.40" font-size="30.60" textLength="14.10" lengthAdjust="spacingAndGlyphs">s</text><text x="1244.06" y="324.40" font-size="30.60" textLength="17.76" lengthAdjust="spacingAndGlyphs">h</text><text x="1262.88" y="324.40" font-size="30.60" textLength="14.71" lengthAdjust="spacingAndGlyphs">a</text><text x="1280.87" y="324.40" font-size="30.60" textLength="17.79" lengthAdjust="spacingAndGlyphs">p</text><text x="1299.20" y="324.40" font-size="30.60" textLength="17.67" lengthAdjust="spacingAndGlyphs">e</text><text x="1315.44" y="324.40" font-size="30.60" textLength="11.91" lengthAdjust="spacingAndGlyphs">,</text>
<text x="1333.86" y="324.40" font-size="30.60" font-style="italic" textLength="17.25" lengthAdjust="spacingAndGlyphs">μ</text>
<text x="1358.29" y="324.40" font-size="30.60" textLength="22.84" lengthAdjust="spacingAndGlyphs">=</text>
<text x="1387.96" y="324.40" font-size="30.60" textLength="16.39" lengthAdjust="spacingAndGlyphs">1</text><text x="1406.33" y="324.40" font-size="30.60" textLength="17.16" lengthAdjust="spacingAndGlyphs">0</text><text x="1424.46" y="324.40" font-size="30.60" textLength="8.80" lengthAdjust="spacingAndGlyphs">.</text><text x="1434.25" y="324.40" font-size="30.60" textLength="17.16" lengthAdjust="spacingAndGlyphs">0</text>
<text x="1452.64" y="324.40" font-size="30.60" font-style="italic" textLength="19.43" lengthAdjust="spacingAndGlyphs">Å</text>
<text x="1196.21" y="374.40" font-size="30.60" textLength="16.85" lengthAdjust="spacingAndGlyphs">L</text><text x="1211.73" y="374.40" font-size="30.60" textLength="10.57" lengthAdjust="spacingAndGlyphs">-</text><text x="1223.14" y="374.40" font-size="30.60" textLength="14.12" lengthAdjust="spacingAndGlyphs">s</text><text x="1238.13" y="374.40" font-size="30.60" textLength="17.78" lengthAdjust="spacingAndGlyphs">h</text><text x="1256.99" y="374.40" font-size="30.60" textLength="14.73" lengthAdjust="spacingAndGlyphs">a</text><text x="1275.00" y="374.40" font-size="30.60" textLength="17.82" lengthAdjust="spacingAndGlyphs">p</text><text x="1293.37" y="374.40" font-size="30.60" textLength="17.69" lengthAdjust="spacingAndGlyphs">e</text><text x="1309.63" y="374.40" font-size="30.60" textLength="11.93" lengthAdjust="spacingAndGlyphs">,</text>
<text x="1328.96" y="374.40" font-size="30.60" font-style="italic" textLength="17.25" lengthAdjust="spacingAndGlyphs">μ</text>
<text x="1353.45" y="374.40" font-size="30.60" textLength="23.32" lengthAdjust="spacingAndGlyphs">=</text>
<text x="1383.13" y="374.40" font-size="30.60" textLength="16.55" lengthAdjust="spacingAndGlyphs">1</text><text x="1401.68" y="374.40" font-size="30.60" textLength="17.33" lengthAdjust="spacingAndGlyphs">4</text><text x="1420.00" y="374.40" font-size="30.60" textLength="8.89" lengthAdjust="spacingAndGlyphs">.</text><text x="1429.88" y="374.40" font-size="30.60" textLength="17.33" lengthAdjust="spacingAndGlyphs">4</text>
<text x="1447.67" y="374.40" font-size="30.60" font-style="italic" textLength="18.52" lengthAdjust="spacingAndGlyphs">Å</text>
</svg></body></html>
